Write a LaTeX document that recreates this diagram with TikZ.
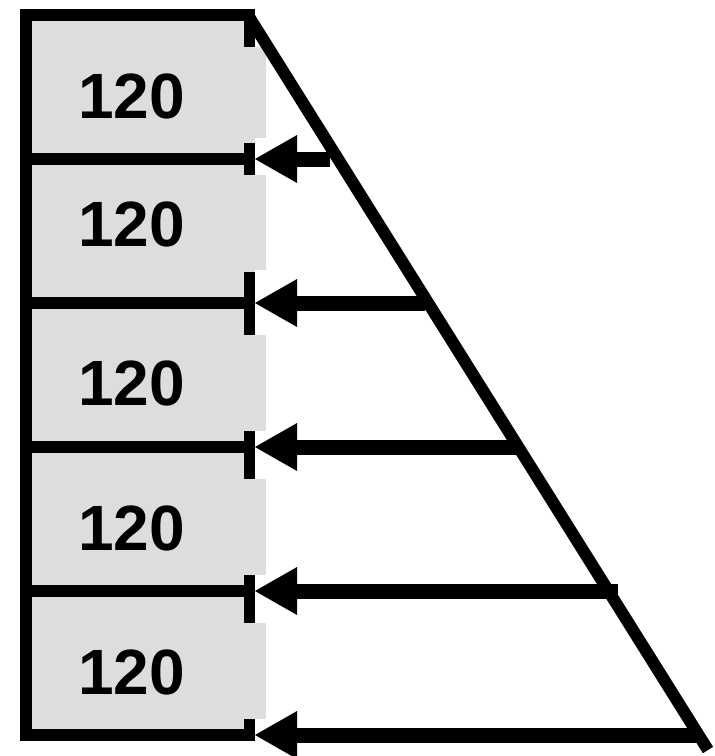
\documentclass[tikz,border=0pt]{standalone}
\usepackage{fontspec}
\setmainfont{Liberation Sans}
\usetikzlibrary{arrows.meta}
\definecolor{cellgray}{RGB}{221,221,221}
\tikzset{
  frame/.style={line width=12pt, line join=miter, draw=black},
  divider/.style={line width=12pt, draw=black},
  tickmark/.style={line width=11pt, draw=black},
  slope/.style={line width=12pt, draw=black},
  load/.style={line width=15pt, draw=black, -{Triangle[length=42pt,width=48pt,line width=0pt]}},
  cellnum/.style={font=\bfseries\fontsize{64}{64}\selectfont, inner sep=0pt, anchor=center},
}
\begin{document}
\begin{tikzpicture}[x=1pt,y=-1pt]
\useasboundingbox (0,0) rectangle (715,756);
% gray cells
\fill[cellgray] (26,15) rectangle (255,735);
\foreach \a/\b in {47/138,175/270,335/431,479/575,623/719}
  \fill[cellgray] (255,\a) rectangle (266,\b);
% coordinates
\coordinate (tl) at (26,15);
\coordinate (tr) at (255,15);
\coordinate (bl) at (26,735);
\coordinate (br) at (255,735);
\foreach \i/\y in {1/159,2/303,3/447,4/591}{
  \coordinate (l\i) at (26,\y);
  \coordinate (r\i) at (255,\y);
}
% frame
\draw[frame] (tr) -- (tl) -- (bl) -- (br);
% dividers
\foreach \i in {1,...,4} \draw[divider] (l\i) -- (r\i);
% ticks
\foreach \i/\a/\b in {0/9/47,1/143/175,2/272/335,3/431/479,4/575/623,5/719/741}{
  \coordinate (ta\i) at (249.5,\a);
  \coordinate (tb\i) at (249.5,\b);
  \draw[tickmark] (ta\i) -- (tb\i);
}
% slope line
\coordinate (s0) at (246,12);
\coordinate (s1) at (708,750);
\draw[slope] (s0) -- (s1);
% arrows
\foreach \i/\x/\y in {1/330/159,2/425/303,3/521/447,4/618/591,5/698/735}{
  \coordinate (e\i) at (\x,\y);
  \coordinate (p\i) at (255,\y);
  \draw[load] (e\i) -- (p\i);
}
% labels
\node[cellnum] (c1) at (131.5,96) {120};
\node[cellnum] (c2) at (131.5,224) {120};
\node[cellnum] (c3) at (131.5,383) {120};
\node[cellnum] (c4) at (131.5,528) {120};
\node[cellnum] (c5) at (131.5,672) {120};
\end{tikzpicture}
\end{document}
